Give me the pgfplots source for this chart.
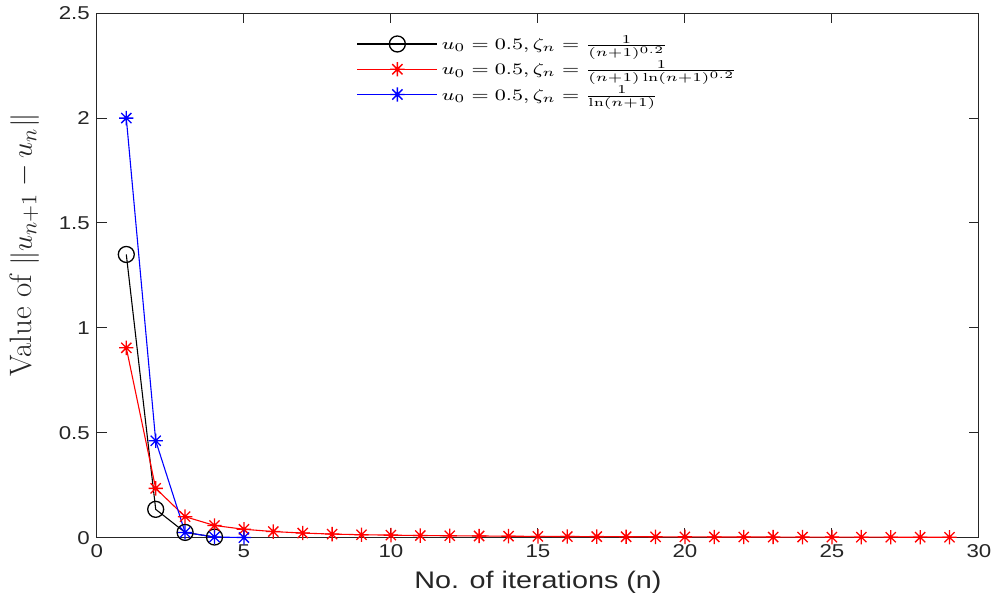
\documentclass[border=0pt]{standalone}
\usepackage{pgfplots}
\pgfplotsset{compat=1.18}
\usepackage{graphicx}
\usepackage{fontspec}
\newfontfamily\hv[FakeStretch=1.2]{Liberation Sans}
\definecolor{axgray}{rgb}{0.15,0.15,0.15}
\pgfdeclareplotmark{mstar}{%
  \pgfpathmoveto{\pgfqpoint{-\pgfplotmarksize}{0pt}}\pgfpathlineto{\pgfqpoint{\pgfplotmarksize}{0pt}}%
  \pgfpathmoveto{\pgfqpoint{0pt}{-\pgfplotmarksize}}\pgfpathlineto{\pgfqpoint{0pt}{\pgfplotmarksize}}%
  \pgfpathmoveto{\pgfqpoint{-0.7071\pgfplotmarksize}{-0.7071\pgfplotmarksize}}\pgfpathlineto{\pgfqpoint{0.7071\pgfplotmarksize}{0.7071\pgfplotmarksize}}%
  \pgfpathmoveto{\pgfqpoint{-0.7071\pgfplotmarksize}{0.7071\pgfplotmarksize}}\pgfpathlineto{\pgfqpoint{0.7071\pgfplotmarksize}{-0.7071\pgfplotmarksize}}%
  \pgfusepathqstroke}
\newcommand{\lgs}[1]{\scalebox{1.3}[1]{#1}}
\begin{document}
\begin{tikzpicture}
\begin{axis}[
  scale only axis, width=441.5pt, height=262.5pt,
  xmin=0, xmax=30, ymin=0, ymax=2.5,
  xtick={0,5,...,30}, ytick={0,0.5,1,1.5,2,2.5},
  tick align=inside, major tick length=5pt,
  axis line style={axgray, line width=0.5pt},
  tick style={axgray, line width=0.5pt},
  /pgf/number format/assume math mode=true,
  ticklabel style={font=\hv\fontsize{9.3}{11}\selectfont, text=axgray},
  xlabel={No. of iterations (n)},
  xlabel style={font=\hv\fontsize{12}{14}\selectfont, text=axgray},
  ylabel={Value of $\|u_{n+1}-u_n\|$},
  ylabel style={font=\fontsize{15.5}{18}\selectfont, text=axgray, at={(ticklabel cs:0.558)}},
  ylabel shift=3pt,
  legend style={at={(rel axis cs:0.292,0.97)}, anchor=north west, draw=none, fill=none,
    font=\fontsize{8.3}{10}\selectfont, row sep=0pt, inner sep=1pt},
  legend cell align=left,
  legend image code/.code={\draw[mark repeat=2,mark phase=2,#1] plot coordinates {(0pt,0pt)(20pt,0pt)(40pt,0pt)};},
]
\addplot[black, line width=0.55pt, mark=o, mark size=4pt, mark options={line width=0.65pt}]
  coordinates {(1,1.35)(2,0.135)(3,0.025)(4,0.003)};
\addlegendentry{\lgs{$u_0=0.5, \zeta_n=\frac{1}{(n+1)^{0.2}}$}}
\addplot[red, line width=0.55pt, mark=mstar, mark size=3.6pt, mark options={line width=0.65pt}]
  coordinates {(1,0.905)(2,0.235)(3,0.100)(4,0.058)(5,0.040)(6,0.029)(7,0.022)(8,0.017)(9,0.014)(10,0.012)
  (11,0.010)(12,0.009)(13,0.008)(14,0.007)(15,0.006)(16,0.0055)(17,0.005)(18,0.0045)(19,0.004)(20,0.0037)
  (21,0.0034)(22,0.0031)(23,0.0029)(24,0.0027)(25,0.0025)(26,0.0023)(27,0.0022)(28,0.0021)(29,0.002)};
\addlegendentry{\lgs{$u_0=0.5, \zeta_n=\frac{1}{(n+1)\ln(n+1)^{0.2}}$}}
\addplot[blue, line width=0.55pt, mark=mstar, mark size=3.6pt, mark options={line width=0.65pt}]
  coordinates {(1,2.0)(2,0.462)(3,0.025)(4,0.003)(5,0.0005)};
\addlegendentry{\lgs{$u_0=0.5, \zeta_n=\frac{1}{\ln(n+1)}$}}
\end{axis}
\path ([shift={(-48.5pt,-35.5pt)}]current axis.south west) -- ([shift={(9pt,5.5pt)}]current axis.north east);
\end{tikzpicture}
\end{document}
